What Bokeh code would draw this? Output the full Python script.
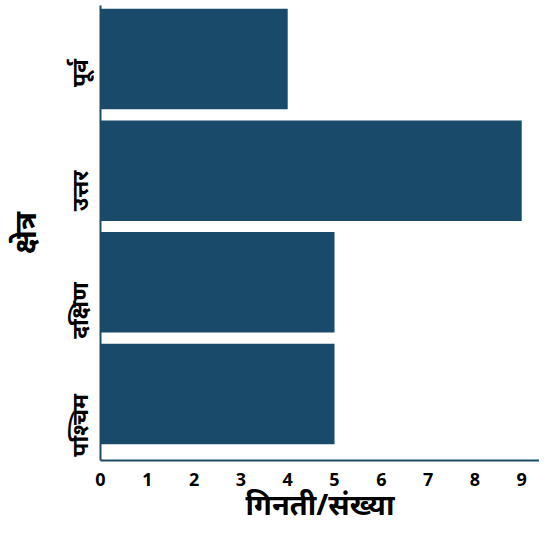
import math
from bokeh.plotting import figure
from bokeh.models import Range1d, FixedTicker, ColumnDataSource
from bokeh.embed import file_html
from bokeh.resources import INLINE

regions = ["पूर्व", "उत्तर", "दक्षिण", "पश्चिम"]
counts = [4, 9, 5, 5]
x_ticks = [0, 1, 2, 3, 4, 5, 6, 7, 8, 9]

positions = list(range(len(regions) - 1, -1, -1))
src = ColumnDataSource(dict(y=positions, right=counts, name=regions))

BAR = "#1a4a6a"

p = figure(width=539, height=525, output_backend="svg", toolbar_location=None,
           x_range=Range1d(0, 9.38), y_range=Range1d(-0.595, 3.479),
           min_border_left=100, min_border_bottom=60, min_border_top=5, min_border_right=0)

p.hbar(y="y", right="right", left=0, height=0.9, source=src,
       fill_color=BAR, line_color=None)

p.xgrid.visible = False
p.ygrid.visible = False
p.outline_line_color = None

p.xaxis.ticker = FixedTicker(ticks=x_ticks)
p.yaxis.ticker = FixedTicker(ticks=positions)
p.yaxis.major_label_overrides = {pos: r for pos, r in zip(positions, regions)}

for ax in (p.xaxis, p.yaxis):
    ax.axis_line_color = BAR
    ax.axis_line_width = 2
    ax.major_tick_line_color = None
    ax.minor_tick_line_color = None
    ax.major_label_text_font = "Noto Sans"
    ax.major_label_text_font_style = "bold"
    ax.major_label_text_color = "black"
    ax.axis_label_text_font = "Noto Sans"
    ax.axis_label_text_font_style = "bold"
    ax.axis_label_text_color = "black"

p.xaxis.major_label_text_font_size = "18px"
p.xaxis.major_label_standoff = 6
p.xaxis.axis_label = "गिनती/संख्या"
p.xaxis.axis_label_text_font_size = "29px"
p.xaxis.axis_label_standoff = -5

p.yaxis.major_label_text_font_size = "23px"
p.yaxis.major_label_orientation = math.pi / 2
p.yaxis.major_label_standoff = 15
p.yaxis.axis_label = "क्षेत्र"
p.yaxis.axis_label_text_font_size = "30px"
p.yaxis.axis_label_standoff = 0

open("out.html", "w").write(file_html(p, INLINE))
